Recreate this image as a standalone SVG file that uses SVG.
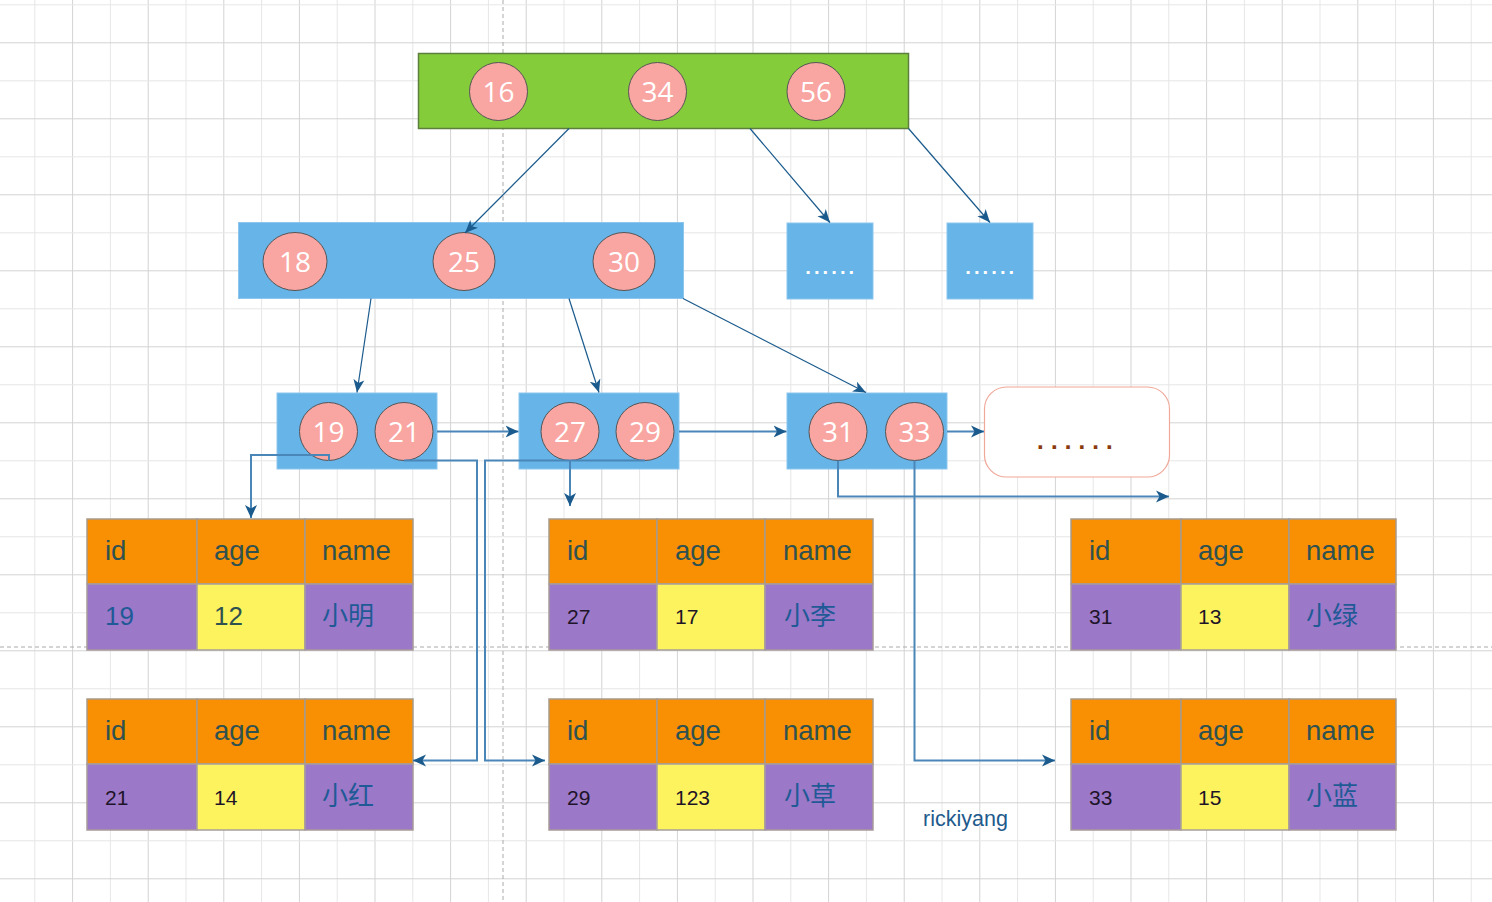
<svg xmlns="http://www.w3.org/2000/svg" width="1492" height="902" viewBox="0 0 1492 902">
<style>
.key{fill:#f9a5a2;stroke:#555;stroke-width:1}
.kt{fill:#fff;font-family:"Open Sans","DejaVu Sans",sans-serif;font-size:28px;text-anchor:middle}
.blue{fill:#67b4e8;stroke:#8cc6ee;stroke-width:1}
.tree{fill:none;stroke:#1a5a8c;stroke-width:1.2}
.link{fill:none;stroke:#4a86b8;stroke-width:2}
.hd{fill:#f98f03;stroke:#a89a8a;stroke-width:1.5}
.pu{fill:#9b78c8;stroke:#a89a9a;stroke-width:1.5}
.ye{fill:#fcf35e;stroke:#a8a09a;stroke-width:1.5}
.ht{fill:#2f5250;font-family:"Liberation Sans",Arial,sans-serif;font-size:27.5px}
.bt{fill:#1f5a96;font-family:"Liberation Sans","Noto Sans CJK SC",sans-serif;font-size:26px}
.tt{fill:#2f5250;font-family:"Liberation Sans",Arial,sans-serif;font-size:26px}
.st{fill:#1e1428;font-family:"Liberation Sans",Arial,sans-serif;font-size:21px}
.cn{fill:#1f5a96;font-family:"Liberation Sans","Noto Sans CJK SC",sans-serif;font-size:26px}
.dots{fill:#fff;font-family:"DejaVu Sans",sans-serif;font-weight:bold;font-size:16px;letter-spacing:2.6px;text-anchor:middle}
</style>
<defs>
<pattern id="grid" patternUnits="userSpaceOnUse" x="34.3" y="4.3" width="75.6" height="76">
<line x1="0.5" y1="0" x2="0.5" y2="76" stroke="#e6e6e6" stroke-width="1"/>
<line x1="38.3" y1="0" x2="38.3" y2="76" stroke="#d3d3d3" stroke-width="1"/>
<line x1="0" y1="0.5" x2="75.6" y2="0.5" stroke="#e6e6e6" stroke-width="1"/>
<line x1="0" y1="38.5" x2="75.6" y2="38.5" stroke="#d3d3d3" stroke-width="1"/>
</pattern>
<marker id="at" markerUnits="userSpaceOnUse" markerWidth="14" markerHeight="12" refX="13" refY="6" orient="auto">
<path d="M0,0.5 L13,6 L0,11.5 L3.5,6 z" fill="#1a5a8c"/>
</marker>
<marker id="al" markerUnits="userSpaceOnUse" markerWidth="14" markerHeight="14" refX="13" refY="7" orient="auto">
<path d="M0,1 L13,7 L0,13 L3.5,7 z" fill="#1a5a8c"/>
</marker>
</defs>
<rect width="1492" height="902" fill="#fff"/>
<rect width="1492" height="902" fill="url(#grid)"/>
<line x1="503" y1="0" x2="503" y2="902" stroke="#aaa" stroke-width="1" stroke-dasharray="4,3"/>
<line x1="0" y1="647" x2="1492" y2="647" stroke="#aaa" stroke-width="1" stroke-dasharray="4,3"/>

<g id="root">
<rect x="418.5" y="53.5" width="490" height="75" fill="#85cc3b" stroke="#5d7f3e" stroke-width="1.5"/>
<circle class="key" cx="498.5" cy="91.5" r="29"/><text class="kt" x="498.5" y="101.5">16</text>
<circle class="key" cx="657.5" cy="91.5" r="29"/><text class="kt" x="657.5" y="101.5">34</text>
<circle class="key" cx="816" cy="91.5" r="29"/><text class="kt" x="816" y="101.5">56</text>
</g>

<g id="n2">
<rect class="blue" x="238.5" y="222.5" width="445" height="76"/>
<ellipse class="key" cx="295" cy="261.5" rx="32" ry="29"/><text class="kt" x="295" y="271.5">18</text>
<ellipse class="key" cx="464" cy="261.5" rx="31" ry="29"/><text class="kt" x="464" y="271.5">25</text>
<ellipse class="key" cx="624" cy="261.5" rx="31" ry="29"/><text class="kt" x="624" y="271.5">30</text>
</g>
<g id="n2b">
<rect class="blue" x="787" y="223" width="86" height="76"/>
<text class="dots" x="831" y="274">......</text>
</g>
<g id="n2c">
<rect class="blue" x="947" y="223" width="86" height="76"/>
<text class="dots" x="991" y="274">......</text>
</g>

<g id="leaf1">
<rect class="blue" x="277" y="393" width="160" height="76"/>
<circle class="key" cx="328.5" cy="431.5" r="29"/><text class="kt" x="328.5" y="441.5">19</text>
<circle class="key" cx="404" cy="431.5" r="29"/><text class="kt" x="404" y="441.5">21</text>
</g>
<g id="leaf2">
<rect class="blue" x="519" y="393" width="160" height="76"/>
<circle class="key" cx="570" cy="431.5" r="29"/><text class="kt" x="570" y="441.5">27</text>
<circle class="key" cx="645" cy="431.5" r="29"/><text class="kt" x="645" y="441.5">29</text>
</g>
<g id="leaf3">
<rect class="blue" x="787" y="393" width="160" height="76"/>
<circle class="key" cx="838" cy="431.5" r="29"/><text class="kt" x="838" y="441.5">31</text>
<circle class="key" cx="914.5" cy="431.5" r="29"/><text class="kt" x="914.5" y="441.5">33</text>
</g>
<g id="leaf4">
<rect x="984.5" y="387" width="185" height="90" rx="22" fill="#fff" stroke="#f0a898" stroke-width="1.2"/>
<text x="1078" y="449" fill="#8b3a10" font-family="DejaVu Sans,sans-serif" font-weight="bold" font-size="20" letter-spacing="6.2" text-anchor="middle">......</text>
</g>

<g id="t1">
<rect class="hd" x="87" y="519" width="110" height="65"/><rect class="hd" x="197" y="519" width="108" height="65"/><rect class="hd" x="305" y="519" width="108" height="65"/>
<rect class="pu" x="87" y="584" width="110" height="66"/><rect class="ye" x="197" y="584" width="108" height="66"/><rect class="pu" x="305" y="584" width="108" height="66"/>
<text class="ht" x="105" y="560">id</text><text class="ht" x="214" y="560">age</text><text class="ht" x="322" y="560">name</text>
<text class="bt" x="105" y="625">19</text><text class="tt" x="214" y="625">12</text><text class="cn" x="322" y="625">小明</text>
</g>
<g id="t2">
<rect class="hd" x="549" y="519" width="108" height="65"/><rect class="hd" x="657" y="519" width="108" height="65"/><rect class="hd" x="765" y="519" width="108" height="65"/>
<rect class="pu" x="549" y="584" width="108" height="66"/><rect class="ye" x="657" y="584" width="108" height="66"/><rect class="pu" x="765" y="584" width="108" height="66"/>
<text class="ht" x="567" y="560">id</text><text class="ht" x="675" y="560">age</text><text class="ht" x="783" y="560">name</text>
<text class="st" x="567" y="624">27</text><text class="st" x="675" y="624">17</text><text class="cn" x="784" y="625">小李</text>
</g>
<g id="t3">
<rect class="hd" x="1071" y="519" width="110" height="65"/><rect class="hd" x="1181" y="519" width="108" height="65"/><rect class="hd" x="1289" y="519" width="107" height="65"/>
<rect class="pu" x="1071" y="584" width="110" height="66"/><rect class="ye" x="1181" y="584" width="108" height="66"/><rect class="pu" x="1289" y="584" width="107" height="66"/>
<text class="ht" x="1089" y="560">id</text><text class="ht" x="1198" y="560">age</text><text class="ht" x="1306" y="560">name</text>
<text class="st" x="1089" y="624">31</text><text class="st" x="1198" y="624">13</text><text class="cn" x="1306" y="625">小绿</text>
</g>
<g id="t4">
<rect class="hd" x="87" y="699" width="110" height="65"/><rect class="hd" x="197" y="699" width="108" height="65"/><rect class="hd" x="305" y="699" width="108" height="65"/>
<rect class="pu" x="87" y="764" width="110" height="66"/><rect class="ye" x="197" y="764" width="108" height="66"/><rect class="pu" x="305" y="764" width="108" height="66"/>
<text class="ht" x="105" y="740">id</text><text class="ht" x="214" y="740">age</text><text class="ht" x="322" y="740">name</text>
<text class="st" x="105" y="805">21</text><text class="st" x="214" y="805">14</text><text class="cn" x="322" y="805">小红</text>
</g>
<g id="t5">
<rect class="hd" x="549" y="699" width="108" height="65"/><rect class="hd" x="657" y="699" width="108" height="65"/><rect class="hd" x="765" y="699" width="108" height="65"/>
<rect class="pu" x="549" y="764" width="108" height="66"/><rect class="ye" x="657" y="764" width="108" height="66"/><rect class="pu" x="765" y="764" width="108" height="66"/>
<text class="ht" x="567" y="740">id</text><text class="ht" x="675" y="740">age</text><text class="ht" x="783" y="740">name</text>
<text class="st" x="567" y="805">29</text><text class="st" x="675" y="805">123</text><text class="cn" x="784" y="805">小草</text>
</g>
<g id="t6">
<rect class="hd" x="1071" y="699" width="110" height="65"/><rect class="hd" x="1181" y="699" width="108" height="65"/><rect class="hd" x="1289" y="699" width="107" height="65"/>
<rect class="pu" x="1071" y="764" width="110" height="66"/><rect class="ye" x="1181" y="764" width="108" height="66"/><rect class="pu" x="1289" y="764" width="107" height="66"/>
<text class="ht" x="1089" y="740">id</text><text class="ht" x="1198" y="740">age</text><text class="ht" x="1306" y="740">name</text>
<text class="st" x="1089" y="805">33</text><text class="st" x="1198" y="805">15</text><text class="cn" x="1306" y="805">小蓝</text>
</g>

<g id="connectors">
<line class="tree" x1="569" y1="128.5" x2="465" y2="233" marker-end="url(#at)"/>
<line class="tree" x1="750" y1="128.5" x2="830" y2="222.5" marker-end="url(#at)"/>
<line class="tree" x1="908.5" y1="128.5" x2="990" y2="222.5" marker-end="url(#at)"/>
<line class="tree" x1="371" y1="298.5" x2="357" y2="392.5" marker-end="url(#at)"/>
<line class="tree" x1="569" y1="298.5" x2="599" y2="392.5" marker-end="url(#at)"/>
<line class="tree" x1="683" y1="298.5" x2="866" y2="392.5" marker-end="url(#at)"/>
<path class="link" d="M437,431.5 H518.5" marker-end="url(#al)"/>
<path class="link" d="M679,431.5 H786.5" marker-end="url(#al)"/>
<path class="link" d="M947,431.5 H984" marker-end="url(#al)"/>
<path class="link" d="M329,460.5 V455 H251 V518" marker-end="url(#al)"/>
<path class="link" d="M404,460.5 H477 V760.5 H413" marker-end="url(#al)"/>
<path class="link" d="M570,460.5 V506" marker-end="url(#al)"/>
<path class="link" d="M645,460.5 H485 V760.5 H545" marker-end="url(#al)"/>
<path class="link" d="M838,460.5 V496.5 H1169" marker-end="url(#al)"/>
<path class="link" d="M914.5,460.5 V760.5 H1055" marker-end="url(#al)"/>
</g>
<text x="923" y="826" fill="#1e5a8c" font-family="Liberation Sans,Arial,sans-serif" font-size="21.5">rickiyang</text>
</svg>
